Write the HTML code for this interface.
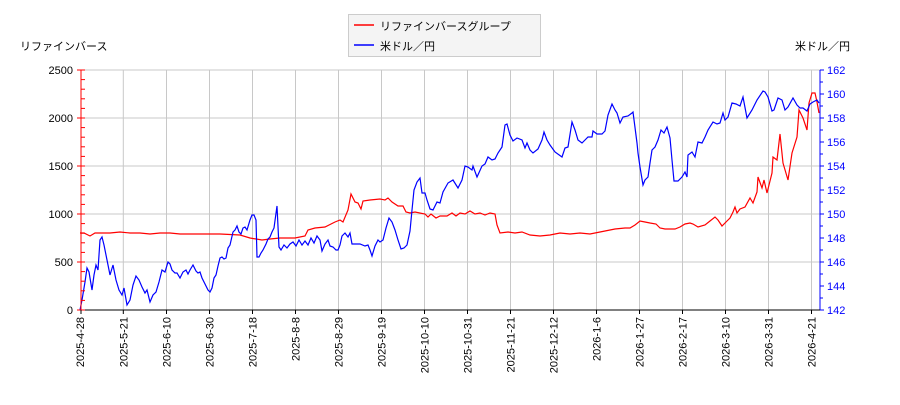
<!DOCTYPE html>
<html><head><meta charset="utf-8"><style>
body{margin:0;background:#fff}
svg text{font-family:"Liberation Sans","Noto Sans CJK JP",sans-serif;font-size:11px;fill:#000}
</style></head><body>
<svg width="900" height="400" viewBox="0 0 900 400" xmlns="http://www.w3.org/2000/svg">
<rect width="900" height="400" fill="#fff"/>
<g stroke="#c8c8c8" stroke-width="1">
<line x1="123.3" y1="70" x2="123.3" y2="310"/><line x1="166.5" y1="70" x2="166.5" y2="310"/><line x1="209.5" y1="70" x2="209.5" y2="310"/><line x1="252.5" y1="70" x2="252.5" y2="310"/><line x1="295.5" y1="70" x2="295.5" y2="310"/><line x1="338.5" y1="70" x2="338.5" y2="310"/><line x1="381.5" y1="70" x2="381.5" y2="310"/><line x1="424.5" y1="70" x2="424.5" y2="310"/><line x1="467.5" y1="70" x2="467.5" y2="310"/><line x1="510.5" y1="70" x2="510.5" y2="310"/><line x1="553.5" y1="70" x2="553.5" y2="310"/><line x1="596.5" y1="70" x2="596.5" y2="310"/><line x1="639.5" y1="70" x2="639.5" y2="310"/><line x1="682.5" y1="70" x2="682.5" y2="310"/><line x1="725.5" y1="70" x2="725.5" y2="310"/><line x1="768.5" y1="70" x2="768.5" y2="310"/><line x1="811.5" y1="70" x2="811.5" y2="310"/>
<line x1="81" y1="262" x2="820" y2="262"/><line x1="81" y1="214" x2="820" y2="214"/><line x1="81" y1="166" x2="820" y2="166"/><line x1="81" y1="118" x2="820" y2="118"/><line x1="81" y1="70" x2="820" y2="70"/>
</g>
<polyline fill="none" stroke="#f00" stroke-width="1.2" points="80,233 84,233 90,236 95,233 110,233 120,232 130,233 140,233 150,234 160,233 170,233 180,234 200,234 220,234 240,235 250,238 262,240 270,239 280,238 295,238 305,236 308,230 315,228 325,227 335,222 340,220 343,222 348,210 351,194 355,202 358,203 361,209 363,201 370,200 380,199 385,200 388,198 392,202 398,206 403,206 406,212 410,213 415,212 425,214 428,217 431,214 436,218 440,216 447,216 452,213 456,216 460,213 465,214 470,211 475,214 480,213 485,215 490,213 495,214 497,225 500,233 508,232 515,233 522,232 530,235 540,236 550,235 555,234 560,233 570,234 580,233 590,234 600,232 605,231 615,229 625,228 630,228 635,225 640,221 645,222 650,223 656,224 660,228 665,229 675,229 680,227 685,224 690,223 693,224 698,227 705,225 710,221 715,217 718,220 722,226 727,221 730,218 733,212 735,207 737,213 740,209 745,207 750,198 753,203 757,192 758,177 762,188 764,180 767,193 772,173 773,157 777,160 780,134 783,163 788,180 792,153 797,137 799,110 803,118 807,130 809,103 812,93 815,93 817,102 819,113"/>
<polyline fill="none" stroke="#00f" stroke-width="1.2" points="80,310 82,300 85,282 87,268 89,272 92,290 94,275 96,265 98,270 100,240 102,237 104,245 107,260 110,275 113,265 116,280 119,290 122,295 124,288 127,305 130,300 133,285 136,276 139,280 142,287 145,293 147,290 150,302 153,295 156,292 159,282 162,270 165,272 168,262 170,264 172,270 175,273 177,273 180,278 183,272 186,270 188,274 190,270 193,265 196,271 198,273 200,272 202,278 205,284 208,290 210,292 212,288 214,278 216,275 218,266 220,258 222,257 224,259 226,258 228,248 230,245 233,232 235,230 237,226 239,232 241,234 243,228 245,227 247,230 250,220 252,215 254,215 256,220 257,257 259,257 261,253 263,250 266,244 268,239 270,237 272,232 274,228 277,206 279,247 281,250 284,245 287,248 290,244 293,242 296,246 299,240 302,245 305,241 308,245 311,238 314,243 317,236 320,240 322,251 325,244 328,240 330,246 333,247 336,250 338,250 340,245 342,236 345,233 348,237 350,233 352,244 360,244 365,246 368,245 370,250 372,256 375,246 378,240 380,242 383,240 386,228 389,218 392,222 395,230 398,240 401,249 404,248 407,245 410,231 412,210 414,190 417,182 420,178 422,193 425,193 427,200 430,209 433,210 437,202 440,203 443,192 448,183 453,180 458,188 462,180 465,166 468,167 472,170 473,166 477,177 482,166 485,164 488,157 492,160 495,159 498,153 502,147 505,125 507,124 510,135 513,141 517,138 522,140 525,148 527,143 530,150 533,153 538,149 542,140 544,132 547,140 550,145 555,152 562,157 565,148 568,147 572,122 575,130 578,140 582,143 585,140 588,137 592,137 593,131 597,134 602,134 605,131 608,115 612,104 615,110 617,113 620,123 623,117 628,116 632,113 633,112 637,143 638,153 640,167 643,185 645,180 648,177 650,163 652,150 655,147 658,140 661,130 664,133 667,127 670,138 672,160 674,181 678,181 682,177 685,172 687,177 688,155 692,152 695,157 698,142 702,143 705,137 708,130 713,122 717,124 720,123 723,113 725,120 728,117 732,103 736,104 740,106 743,97 747,118 752,110 757,100 763,91 765,92 768,97 772,111 774,110 778,98 782,100 785,110 788,107 793,98 797,105 800,108 803,108 807,111 810,104 813,102 817,100 819,103"/>
<line x1="81" y1="70" x2="81" y2="310" stroke="#f00"/>
<line x1="820" y1="70" x2="820" y2="310" stroke="#00f"/>
<line x1="80" y1="310" x2="820" y2="310" stroke="#000"/>
<g stroke="#f00">
<line x1="77" y1="310" x2="85" y2="310"/><line x1="77" y1="262" x2="85" y2="262"/><line x1="77" y1="214" x2="85" y2="214"/><line x1="77" y1="166" x2="85" y2="166"/><line x1="77" y1="118" x2="85" y2="118"/><line x1="77" y1="70" x2="85" y2="70"/>
<line x1="81" y1="300.4" x2="85" y2="300.4"/><line x1="81" y1="290.8" x2="85" y2="290.8"/><line x1="81" y1="281.2" x2="85" y2="281.2"/><line x1="81" y1="271.6" x2="85" y2="271.6"/>
<line x1="81" y1="252.4" x2="85" y2="252.4"/><line x1="81" y1="242.8" x2="85" y2="242.8"/><line x1="81" y1="233.2" x2="85" y2="233.2"/><line x1="81" y1="223.6" x2="85" y2="223.6"/>
<line x1="81" y1="204.4" x2="85" y2="204.4"/><line x1="81" y1="194.8" x2="85" y2="194.8"/><line x1="81" y1="185.2" x2="85" y2="185.2"/><line x1="81" y1="175.6" x2="85" y2="175.6"/>
<line x1="81" y1="156.4" x2="85" y2="156.4"/><line x1="81" y1="146.8" x2="85" y2="146.8"/><line x1="81" y1="137.2" x2="85" y2="137.2"/><line x1="81" y1="127.6" x2="85" y2="127.6"/>
<line x1="81" y1="108.4" x2="85" y2="108.4"/><line x1="81" y1="98.8" x2="85" y2="98.8"/><line x1="81" y1="89.2" x2="85" y2="89.2"/><line x1="81" y1="79.6" x2="85" y2="79.6"/>
</g>
<g stroke="#00f">
<line x1="820" y1="310" x2="824" y2="310"/><line x1="820" y1="298" x2="823" y2="298"/><line x1="820" y1="286" x2="824" y2="286"/><line x1="820" y1="274" x2="823" y2="274"/><line x1="820" y1="262" x2="824" y2="262"/><line x1="820" y1="250" x2="823" y2="250"/><line x1="820" y1="238" x2="824" y2="238"/><line x1="820" y1="226" x2="823" y2="226"/><line x1="820" y1="214" x2="824" y2="214"/><line x1="820" y1="202" x2="823" y2="202"/><line x1="820" y1="190" x2="824" y2="190"/><line x1="820" y1="178" x2="823" y2="178"/><line x1="820" y1="166" x2="824" y2="166"/><line x1="820" y1="154" x2="823" y2="154"/><line x1="820" y1="142" x2="824" y2="142"/><line x1="820" y1="130" x2="823" y2="130"/><line x1="820" y1="118" x2="824" y2="118"/><line x1="820" y1="106" x2="823" y2="106"/><line x1="820" y1="94" x2="824" y2="94"/><line x1="820" y1="82" x2="823" y2="82"/><line x1="820" y1="70" x2="824" y2="70"/>
</g>
<g text-anchor="end" style="fill:#f00">
<text x="73" y="314" fill="#f00">0</text><text x="73" y="266" fill="#f00">500</text><text x="73" y="218" fill="#f00">1000</text><text x="73" y="170" fill="#f00">1500</text><text x="73" y="122" fill="#f00">2000</text><text x="73" y="74" fill="#f00">2500</text>
</g>
<g>
<text x="827" y="314" fill="#00f" style="fill:#00f">142</text><text x="827" y="290" style="fill:#00f">144</text><text x="827" y="266" style="fill:#00f">146</text><text x="827" y="242" style="fill:#00f">148</text><text x="827" y="218" style="fill:#00f">150</text><text x="827" y="194" style="fill:#00f">152</text><text x="827" y="170" style="fill:#00f">154</text><text x="827" y="146" style="fill:#00f">156</text><text x="827" y="122" style="fill:#00f">158</text><text x="827" y="98" style="fill:#00f">160</text><text x="827" y="74" style="fill:#00f">162</text>
</g>
<g stroke="#000">
<line x1="81" y1="310" x2="81" y2="314"/><line x1="123.3" y1="310" x2="123.3" y2="314"/><line x1="166.5" y1="310" x2="166.5" y2="314"/><line x1="209.5" y1="310" x2="209.5" y2="314"/><line x1="252.5" y1="310" x2="252.5" y2="314"/><line x1="295.5" y1="310" x2="295.5" y2="314"/><line x1="338.5" y1="310" x2="338.5" y2="314"/><line x1="381.5" y1="310" x2="381.5" y2="314"/><line x1="424.5" y1="310" x2="424.5" y2="314"/><line x1="467.5" y1="310" x2="467.5" y2="314"/><line x1="510.5" y1="310" x2="510.5" y2="314"/><line x1="553.5" y1="310" x2="553.5" y2="314"/><line x1="596.5" y1="310" x2="596.5" y2="314"/><line x1="639.5" y1="310" x2="639.5" y2="314"/><line x1="682.5" y1="310" x2="682.5" y2="314"/><line x1="725.5" y1="310" x2="725.5" y2="314"/><line x1="768.5" y1="310" x2="768.5" y2="314"/><line x1="811.5" y1="310" x2="811.5" y2="314"/>
</g>
<g text-anchor="end" font-size="10">
<text transform="translate(84,317) rotate(-90)">2025-4-28</text>
<text transform="translate(127.3,317) rotate(-90)">2025-5-21</text>
<text transform="translate(170.5,317) rotate(-90)">2025-6-10</text>
<text transform="translate(213.5,317) rotate(-90)">2025-6-30</text>
<text transform="translate(256.5,317) rotate(-90)">2025-7-18</text>
<text transform="translate(299.5,317) rotate(-90)">2025-8-8</text>
<text transform="translate(342.5,317) rotate(-90)">2025-8-29</text>
<text transform="translate(385.5,317) rotate(-90)">2025-9-19</text>
<text transform="translate(428.5,317) rotate(-90)">2025-10-10</text>
<text transform="translate(471.5,317) rotate(-90)">2025-10-31</text>
<text transform="translate(514.5,317) rotate(-90)">2025-11-21</text>
<text transform="translate(557.5,317) rotate(-90)">2025-12-12</text>
<text transform="translate(600.5,317) rotate(-90)">2026-1-6</text>
<text transform="translate(643.5,317) rotate(-90)">2026-1-27</text>
<text transform="translate(686.5,317) rotate(-90)">2026-2-17</text>
<text transform="translate(729.5,317) rotate(-90)">2026-3-10</text>
<text transform="translate(772.5,317) rotate(-90)">2026-3-31</text>
<text transform="translate(815.5,317) rotate(-90)">2026-4-21</text>
</g>
<text x="20" y="50" font-size="12">リファインバース</text>
<text x="850" y="50" font-size="12" text-anchor="end">米ドル／円</text>
<rect x="348.5" y="14.5" width="192" height="42" fill="#f4f4f4" stroke="#ccc"/>
<line x1="354" y1="25" x2="374" y2="25" stroke="#f00" stroke-width="1.5"/>
<line x1="354" y1="45" x2="374" y2="45" stroke="#00f" stroke-width="1.5"/>
<text x="380" y="30" font-size="12">リファインバースグループ</text>
<text x="380" y="50" font-size="12">米ドル／円</text>
</svg>
</body></html>
